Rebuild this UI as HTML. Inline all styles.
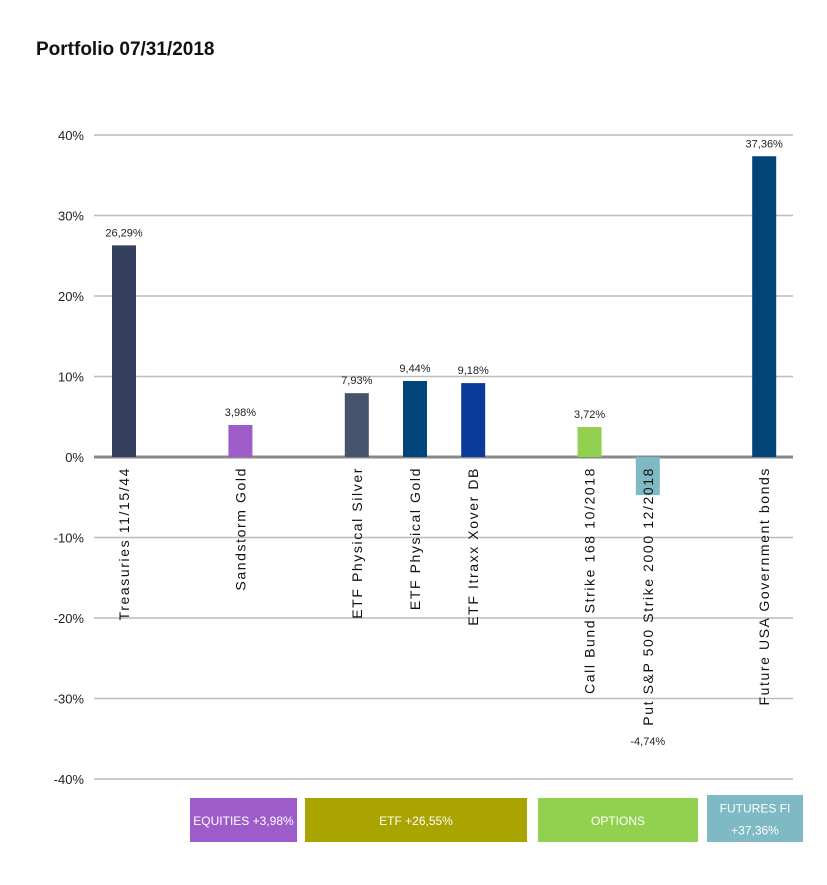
<!DOCTYPE html>
<html><head><meta charset="utf-8"><style>
body{margin:0;background:#fff;width:827px;height:880px;overflow:hidden;font-family:"Liberation Sans",sans-serif}
</style></head><body>
<svg id="c" width="827" height="880" xmlns="http://www.w3.org/2000/svg">
<text x="36" y="55" font-size="19" font-weight="bold" fill="#111">Portfolio 07/31/2018</text>
<g id="grid"></g><g id="bars"></g><g id="legend"></g>
</svg>
<script>
const categories=["Treasuries 11/15/44","Sandstorm Gold","ETF Physical Silver","ETF Physical Gold","ETF Itraxx Xover DB","Call Bund Strike 168 10/2018","Put S&P 500 Strike 2000 12/2018","Future USA Government bonds"];
const values=[26.29,3.98,7.93,9.44,9.18,3.72,-4.74,37.36];
const labels=["26,29%","3,98%","7,93%","9,44%","9,18%","3,72%","-4,74%","37,36%"];
const colors=["#353f5e","#9e5ccb","#45536c","#004478","#0a3a9a","#92d050","#7fb9c4","#004478"];
const slots=[0,2,4,5,6,8,9,11];
const ticks=[40,30,20,10,0,-10,-20,-30,-40];
const tickLabels=["40%","30%","20%","10%","0%","-10%","-20%","-30%","-40%"];
const groups=["EQUITIES +3,98%","ETF +26,55%","OPTIONS","FUTURES FI|+37,36%"];
const groupColors=["#9e5ccb","#a9a400","#92d050","#7fb9c4"];
const NS="http://www.w3.org/2000/svg";
const y=v=>457-v*8.05;
const x=s=>124+s*58.2;
function mk(t,a,p,txt){const e=document.createElementNS(NS,t);for(const k in a)e.setAttribute(k,a[k]);if(txt!==undefined)e.textContent=txt;p.appendChild(e);return e;}
const G=document.getElementById('grid'),B=document.getElementById('bars'),L=document.getElementById('legend');
ticks.forEach((t,i)=>{
 const ln=mk('line',{x1:94,x2:793,y1:y(t),y2:y(t),stroke:t===0?'#888':'#bbb','stroke-width':t===0?3:1.5},G);
 
 
 const tx=mk('text',{x:84,y:y(t)+5,'text-anchor':'end','font-size':13,fill:'#222'},G,tickLabels[i]);
 
 
});
values.forEach((v,i)=>{
 const cx=x(slots[i]);
 const top=Math.min(y(v),y(0)),h=Math.abs(y(v)-y(0));
 const r=mk('rect',{x:cx-12,y:top,width:24,height:h,fill:colors[i]},B);
 
 
 const ly=v>=0?y(v)-9:y(-35.8);
 const t=mk('text',{x:cx,y:ly,'text-anchor':'middle','font-size':11,fill:'#222'},B,labels[i]);
 
 
 const c=mk('text',{x:0,y:0,'text-anchor':'end','font-size':14,'letter-spacing':1.6,fill:'#111',transform:`translate(${cx+5},${467}) rotate(-90)`},B,categories[i]);
 
 
});
const gbox=[[190,798,107,44],[305,798,222,44],[538,798,160,44],[707,795,96,47]];
groups.forEach((g,i)=>{
 const [gx,gy,gw,gh]=gbox[i];
 const r=mk('rect',{x:gx,y:gy,width:gw,height:gh,fill:groupColors[i]},L);
 
 
 const parts=g.split('|');
 parts.forEach((p,j)=>{
  const ty=gy+gh/2+5+(parts.length>1?(j?11:-11):0);
  const t=mk('text',{x:gx+gw/2,y:ty,'text-anchor':'middle','font-size':12,fill:'#fff'},L,p);
  
  
 });
});
</script>
</body></html>
